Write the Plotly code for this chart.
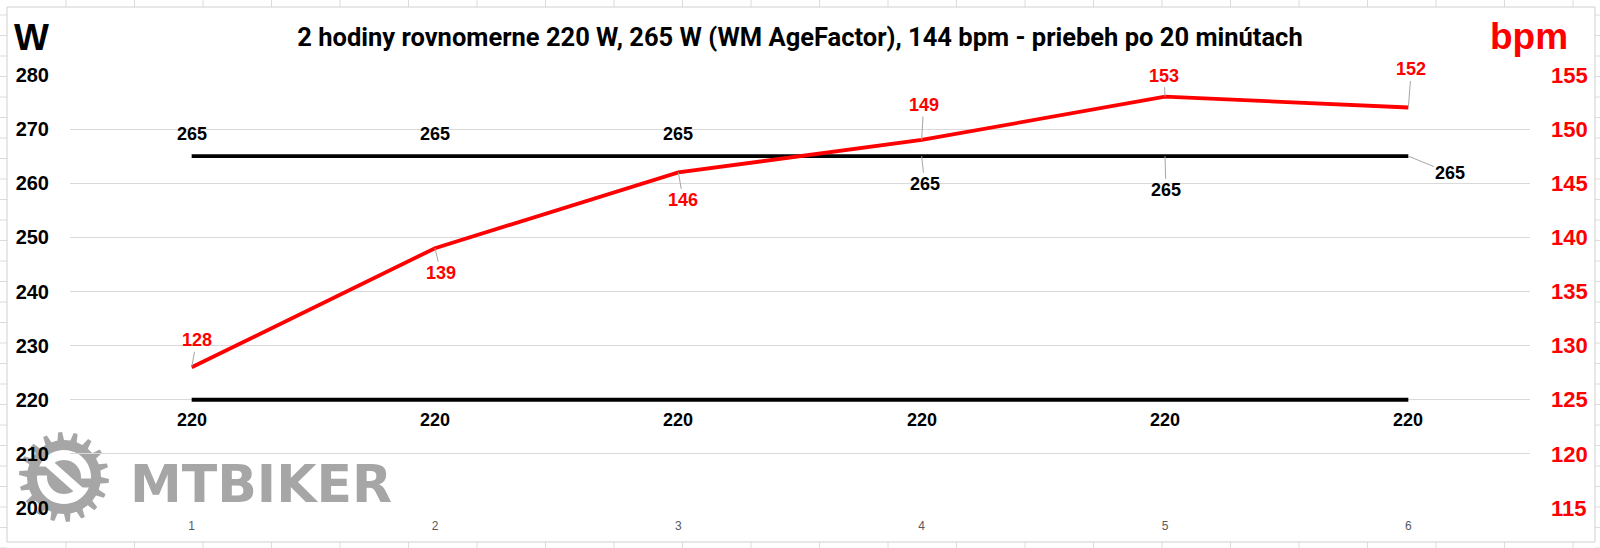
import math
import plotly.graph_objects as go

# ---------------- data ----------------
intervals = [1, 2, 3, 4, 5, 6]
interval_labels = ["1", "2", "3", "4", "5", "6"]
power_agefactor = [265, 265, 265, 265, 265, 265]
power_steady = [220, 220, 220, 220, 220, 220]
heart_rate = [128, 139, 146, 149, 153, 152]

title_text = "2 hodiny rovnomerne 220 W, 265 W (WM AgeFactor), 144 bpm - priebeh po 20 minútach"

# ---------------- layout geometry (pixels) ----------------
W, H = 1600, 548
L, R, T, B = 70, 1530, 75, 508
PW, PH = R - L, B - T


def px(xp):
    return (xp - L) / PW


def py(yp):
    return (B - yp) / PH


RED = "#ff0000"
BLACK = "#000000"
GRID = "#d9d9d9"
LEADER = "#a6a6a6"
LOGO = "#a6a6a6"
FONT = "Liberation Sans"

fig = go.Figure()
fig.add_trace(go.Scatter(x=intervals, y=power_agefactor, mode="lines",
                         line=dict(color=BLACK, width=3.8), hoverinfo="skip"))
fig.add_trace(go.Scatter(x=intervals, y=power_steady, mode="lines",
                         line=dict(color=BLACK, width=3.8), hoverinfo="skip"))
fig.add_trace(go.Scatter(x=intervals, y=heart_rate, mode="lines", yaxis="y2",
                         line=dict(color=RED, width=3.8), hoverinfo="skip"))

annotations = []

# label offsets (pixels: dx right, dy down) and whether a leader line is drawn
off_265 = [(0, -22), (0, -22), (0, -22), (3, 28), (1, 34), (42, 17)]
lead_265 = [False, False, False, True, True, True]
off_220 = [(0, 20)] * 6
off_hr = [(5, -27), (6, 25), (5, 28), (2, -35), (-1, -21), (3, -38)]

lab_font_k = dict(family=FONT, size=18, color=BLACK, weight="bold")
lab_font_r = dict(family=FONT, size=18, color=RED, weight="bold")


def add_labels(xs, ys, offs, leads, font, yref):
    for xv, yv, (dx, dy), ld in zip(xs, ys, offs, leads):
        annotations.append(dict(
            x=xv, y=yv, xref="x", yref=yref, text=str(yv), font=font,
            showarrow=True, ax=dx, ay=dy, arrowhead=0, arrowwidth=1,
            standoff=0, startstandoff=0,
            arrowcolor=LEADER if ld else "rgba(0,0,0,0)"))


add_labels(intervals, power_agefactor, off_265, lead_265, lab_font_k, "y")
add_labels(intervals, power_steady, off_220, [False] * 6, lab_font_k, "y")
add_labels(intervals, heart_rate, off_hr, [True] * 6, lab_font_r, "y2")

# axis titles
annotations.append(dict(text="W", xref="paper", yref="paper", x=px(12), y=py(38),
                        xanchor="left", yanchor="middle", showarrow=False,
                        font=dict(family=FONT, size=37, color=BLACK, weight="bold")))
annotations.append(dict(text="bpm", xref="paper", yref="paper", x=px(1488), y=py(37),
                        xanchor="left", yanchor="middle", showarrow=False,
                        font=dict(family=FONT, size=37, color=RED, weight="bold")))
# watermark text
annotations.append(dict(text="MTBIKER", xref="paper", yref="paper", x=px(128), y=py(484),
                        xanchor="left", yanchor="middle", showarrow=False,
                        font=dict(family="DejaVu Sans", size=52, color=LOGO, weight="bold")))

shapes = []

# spreadsheet grid around the chart
for i in range(24):
    xg = 66 + 68.5 * i
    if xg > W:
        break
    for (y0, y1) in [(0, 7), (542, 548)]:
        shapes.append(dict(type="line", xref="paper", yref="paper",
                           x0=px(xg), x1=px(xg), y0=py(y0), y1=py(y1),
                           line=dict(color="#dcdcdc", width=1), layer="below"))
for j in range(28):
    yg = 15 + 20.5 * j
    if yg > H:
        break
    for (x0, x1) in [(0, 7), (1595, 1600)]:
        shapes.append(dict(type="line", xref="paper", yref="paper",
                           x0=px(x0), x1=px(x1), y0=py(yg), y1=py(yg),
                           line=dict(color="#dcdcdc", width=1), layer="below"))
# chart area border
shapes.append(dict(type="rect", xref="paper", yref="paper",
                   x0=px(7), x1=px(1595), y0=py(542), y1=py(7),
                   line=dict(color="#d0d0d0", width=1), fillcolor="rgba(0,0,0,0)",
                   layer="below"))

# gear logo
cx, cy = 64, 477
n_teeth = 18
pts = []
for k in range(n_teeth):
    a0 = 2 * math.pi * k / n_teeth
    step = 2 * math.pi / n_teeth
    for frac, r in [(0.0, 37), (0.12, 45), (0.38, 45), (0.5, 37)]:
        a = a0 + frac * step
        pts.append((cx + r * math.cos(a), cy + r * math.sin(a)))
gear_path = "M " + " L ".join(f"{px(x):.5f},{py(y):.5f}" for x, y in pts) + " Z"
shapes.append(dict(type="path", xref="paper", yref="paper", path=gear_path,
                   fillcolor=LOGO, line=dict(width=0), layer="below"))


def circle_path(r, reverse=False, n=48):
    angs = [2 * math.pi * i / n for i in range(n)]
    if reverse:
        angs = angs[::-1]
    return "M " + " L ".join(f"{px(cx + r*math.cos(a)):.5f},{py(cy + r*math.sin(a)):.5f}"
                             for a in angs) + " Z"


ring = circle_path(27) + " " + circle_path(17, reverse=True)
shapes.append(dict(type="path", xref="paper", yref="paper", path=ring,
                   fillcolor="white", line=dict(width=0), layer="below"))


def bar_path(x0, y0, x1, y1, w):
    dx, dy = x1 - x0, y1 - y0
    ln = math.hypot(dx, dy)
    nx, ny = -dy / ln * w / 2, dx / ln * w / 2
    p = [(x0 + nx, y0 + ny), (x1 + nx, y1 + ny), (x1 - nx, y1 - ny), (x0 - nx, y0 - ny)]
    return "M " + " L ".join(f"{px(a):.5f},{py(b):.5f}" for a, b in p) + " Z"


# gray cuts in the ring and a white diagonal link
shapes.append(dict(type="path", xref="paper", yref="paper",
                   path=bar_path(cx - 30, cy - 6, cx - 12, cy - 6, 9),
                   fillcolor=LOGO, line=dict(width=0), layer="below"))
shapes.append(dict(type="path", xref="paper", yref="paper",
                   path=bar_path(cx + 12, cy + 6, cx + 30, cy + 6, 9),
                   fillcolor=LOGO, line=dict(width=0), layer="below"))
shapes.append(dict(type="path", xref="paper", yref="paper",
                   path=bar_path(cx - 18, cy - 16, cx + 18, cy + 16, 9),
                   fillcolor="white", line=dict(width=0), layer="below"))

fig.update_layout(
    width=W, height=H,
    margin=dict(l=L, r=W - R, t=T, b=H - B, pad=0),
    paper_bgcolor="white", plot_bgcolor="white",
    showlegend=False,
    title=dict(text=title_text, x=0.5, xanchor="center", xref="paper",
               y=1 - 37 / H, yanchor="middle", yref="container",
               font=dict(family="Roboto", size=25.5, color=BLACK, weight="bold")),
    xaxis=dict(range=[0.5, 6.5], tickmode="array", tickvals=intervals,
               ticktext=interval_labels, showgrid=False, zeroline=False, showline=False,
               ticks="", tickfont=dict(family=FONT, size=12, color="#595959"),
               ticklabelstandoff=9, fixedrange=True),
    yaxis=dict(range=[200, 280], dtick=10, tick0=200, showgrid=True, gridcolor=GRID,
               gridwidth=1, zeroline=False, showline=False, ticks="",
               tickfont=dict(family=FONT, size=20, color=BLACK, weight="bold"),
               ticklabelstandoff=20, fixedrange=True),
    yaxis2=dict(range=[115, 155], dtick=5, tick0=115, overlaying="y", side="right",
                showgrid=False, zeroline=False, showline=False, ticks="",
                tickfont=dict(family=FONT, size=22, color=RED, weight="bold"),
                ticklabelstandoff=20, fixedrange=True),
    annotations=annotations,
    shapes=shapes,
)

fig.write_html("out.html",
               config={"displayModeBar": False, "staticPlot": True},
               post_script="document.body.style.margin='0px';document.body.style.overflow='hidden';")
